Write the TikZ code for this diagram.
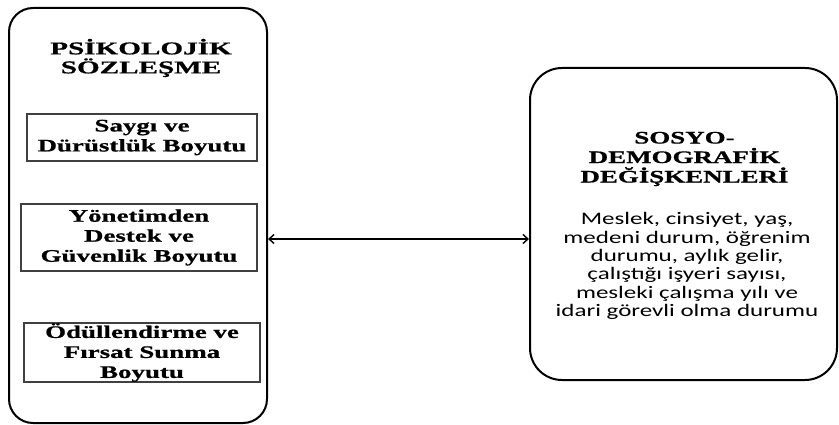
\documentclass[tikz,border=0pt]{standalone}
\usepackage{fontspec}
\usetikzlibrary{arrows.meta}
\newfontfamily\ttlfont[FakeStretch=1.62,FakeBold=0.8]{Liberation Serif Bold}
\newfontfamily\boxfont[FakeStretch=1.53,FakeBold=0.8]{Liberation Serif Bold}
\newfontfamily\bodyfont[FakeStretch=1.42]{Carlito}
\tikzset{
  bigbox/.style={draw=black, line width=2pt, rounded corners=#1, inner sep=0pt},
  innerbox/.style={draw=black!75, line width=1.1pt, inner sep=0pt, align=center,
     font=\boxfont\fontsize{17.6}{20}\selectfont},
  ttl/.style={align=center, inner sep=0pt, font=\ttlfont\fontsize{18}{19}\selectfont},
  rttl/.style={align=center, inner sep=0pt, font=\boxfont\fontsize{17.6}{19.5}\selectfont},
  body/.style={align=center, inner sep=0pt, font=\bodyfont\fontsize{17.6}{18.3}\selectfont},
  link/.style={line width=1.4pt, {Straight Barb[length=5pt,width=9pt]}-{Straight Barb[length=5pt,width=9pt]}}
}
\begin{document}
\begin{tikzpicture}[x=1pt,y=-1pt]
\useasboundingbox (0,0) rectangle (839,425);
% left container
\node[bigbox=24pt, minimum width=258pt, minimum height=415pt] (L) at (138,215.5) {};
\node[ttl] (lt) at (141,58) {PSİKOLOJİK\\SÖZLEŞME};
\node[innerbox, minimum width=230pt, minimum height=47pt] (b1) at (142,137.5) {Saygı ve\\Dürüstlük Boyutu};
\node[innerbox, minimum width=236pt, minimum height=67pt] (b2) at (139,237.5) {Yönetimden\\Destek ve\\Güvenlik Boyutu};
\node[innerbox, minimum width=236pt, minimum height=59pt] (b3) at (142,352.5) {Ödüllendirme ve\\Fırsat Sunma\\Boyutu};
% right container
\node[bigbox=32pt, minimum width=307pt, minimum height=312pt] (R) at (683.5,224) {};
\node[rttl] (rt) at (684.5,159) {SOSYO-\\DEMOGRAFİK\\DEĞİŞKENLERİ};
\node[body] (rb) at (687,266) {Meslek, cinsiyet, yaş,\\medeni durum, öğrenim\\durumu, aylık gelir,\\çalıştığı işyeri sayısı,\\mesleki çalışma yılı ve\\idari görevli olma durumu};
% connector
\coordinate (ay) at (400,239);
\draw[link] (L.east |- ay) -- (R.west |- ay);
\end{tikzpicture}
\end{document}
